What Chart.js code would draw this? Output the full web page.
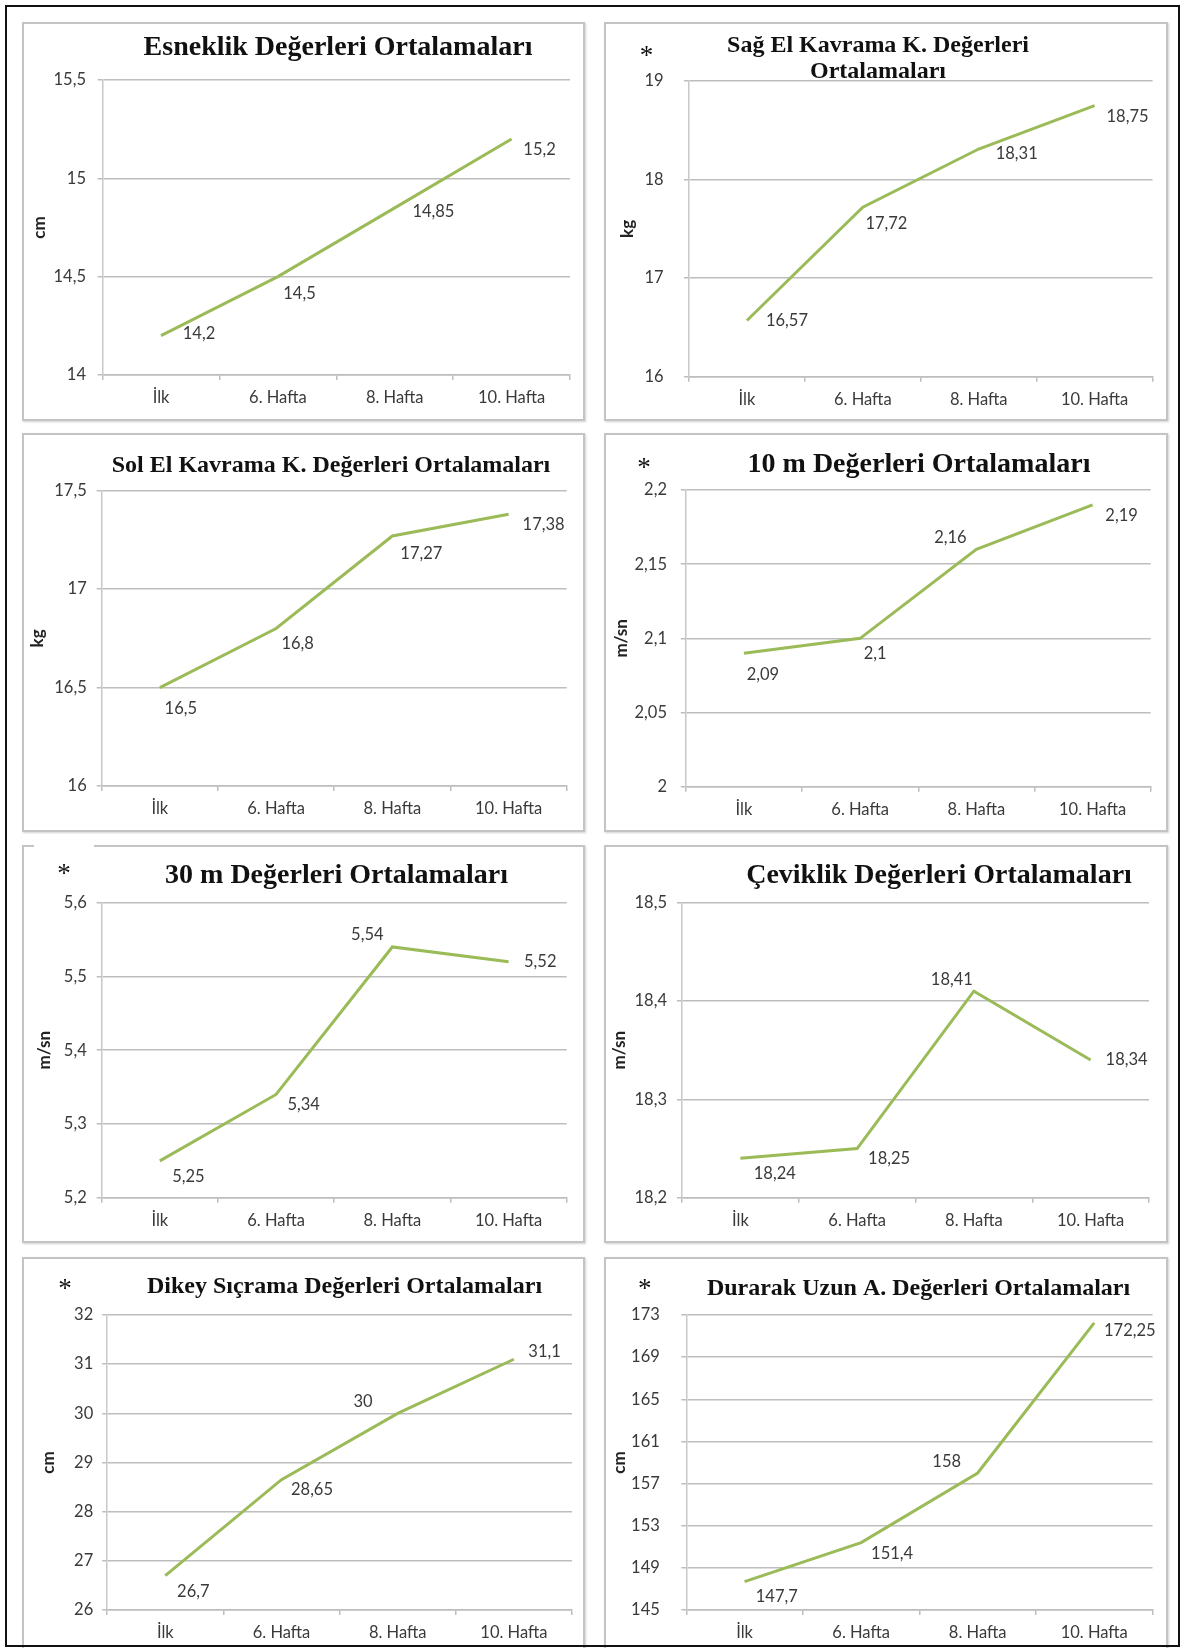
<!DOCTYPE html>
<html lang="tr">
<head>
<meta charset="utf-8">
<title>Değerleri Ortalamaları</title>
<script src="https://cdn.jsdelivr.net/npm/chart.js@4.4.1/dist/chart.umd.min.js"></script>
<style>
  html, body { margin: 0; padding: 0; background: #fff; }
  body { width: 1182px; height: 1648px; position: relative; overflow: hidden; }
  .panel { position: absolute; background: #fff; }
  .panel canvas { position: absolute; left: 0; top: 0; }
  .panel .edge {
    position: absolute; left: 0; top: 0; right: 0; bottom: 0;
    border: 2px solid #c4c4c4;
    box-shadow: 1px 1px 2px rgba(0, 0, 0, 0.18);
    pointer-events: none;
  }
  .frame {
    position: absolute; left: 5px; top: 5px; width: 1175px; height: 1642px;
    border: 2px solid #111; box-sizing: border-box; z-index: 5; pointer-events: none;
  }
  .patch { position: absolute; left: 34px; top: 841px; width: 60px; height: 14px; background: #fff; z-index: 3; }
</style>
</head>
<body>
<div class="frame"></div>
<div class="patch"></div>
<script>
// Measurement weeks shared by every chart
const weekLabels = ['İlk', '6. Hafta', '8. Hafta', '10. Hafta'];

// Mean values per test, one value per week
const esneklikValues = [14.2, 14.5, 14.85, 15.2];
const sagElValues = [16.57, 17.72, 18.31, 18.75];
const solElValues = [16.5, 16.8, 17.27, 17.38];
const onMetreValues = [2.09, 2.1, 2.16, 2.19];
const otuzMetreValues = [5.25, 5.34, 5.54, 5.52];
const ceviklikValues = [18.24, 18.25, 18.41, 18.34];
const dikeyValues = [26.7, 28.65, 30, 31.1];
const durarakValues = [147.7, 151.4, 158, 172.25];

// Value-axis tick labels per test
const esneklikTicks = [14, 14.5, 15, 15.5];
const sagElTicks = [16, 17, 18, 19];
const solElTicks = [16, 16.5, 17, 17.5];
const onMetreTicks = [2, 2.05, 2.1, 2.15, 2.2];
const otuzMetreTicks = [5.2, 5.3, 5.4, 5.5, 5.6];
const ceviklikTicks = [18.2, 18.3, 18.4, 18.5];
const dikeyTicks = [26, 27, 28, 29, 30, 31, 32];
const durarakTicks = [145, 149, 153, 157, 161, 165, 169, 173];

const LINE_COLOR = '#9bbb59';
const GRID_COLOR = '#bdbdbd';
const TEXT_COLOR = '#3a3a3a';
const LABEL_FONT = 'Lato';
const TITLE_FONT = '"Liberation Serif", "Times New Roman", serif';

// Turkish decimal comma
function fmt(v) {
  return String(Math.round(v * 1000) / 1000).replace('.', ',');
}

// Chart boxes: panel frame, plot area, heading and label placement
const panels = [
  { id: 'esneklik', left: 22, top: 22, w: 563, h: 399,
    title: ['Esneklik Değerleri Ortalamaları'], titleSize: 28, titleX: 316, titleY: [33],
    star: null, unit: 'cm', unitX: 18, plot: [80.6, 548, 58, 353], tickGap: 16.6,
    values: esneklikValues, ticks: esneklikTicks,
    labelShift: [[38, -2], [21.6, 16.6], [38.7, 3.9], [28, 11]] },
  { id: 'sagEl', left: 604, top: 22, w: 564, h: 399,
    title: ['Sağ El Kavrama K. Değerleri', 'Ortalamaları'], titleSize: 24, titleX: 274, titleY: [30.3, 56.3],
    star: [42.6, 28], unit: 'kg', unitX: 23.7, plot: [85, 548.5, 59, 354.7], tickGap: 25.4,
    values: sagElValues, ticks: sagElTicks,
    labelShift: [[40, 0], [23.6, 17], [38, 4.3], [33, 11]] },
  { id: 'solEl', left: 22, top: 433, w: 563, h: 399,
    title: ['Sol El Kavrama K. Değerleri Ortalamaları'], titleSize: 24, titleX: 309, titleY: [38.7],
    star: null, unit: 'kg', unitX: 15.7, plot: [79.7, 544.7, 57.7, 353], tickGap: 15,
    values: solElValues, ticks: solElTicks,
    labelShift: [[21, 20.7], [21.6, 15.5], [29, 18], [35, 10.7]] },
  { id: 'onMetre', left: 604, top: 433, w: 564, h: 399,
    title: ['10 m Değerleri Ortalamaları'], titleSize: 28, titleX: 315, titleY: [38.7],
    star: [40, 28.7], unit: 'm/sn', unitX: 17.7, plot: [81.8, 546.7, 57, 353.7], tickGap: 18.8,
    values: onMetreValues, ticks: onMetreTicks,
    labelShift: [[19, 21], [15, 15.6], [-26, -12], [29, 11]] },
  { id: 'otuzMetre', left: 22, top: 845, w: 563, h: 398,
    title: ['30 m Değerleri Ortalamaları'], titleSize: 28, titleX: 314.5, titleY: [38.3],
    star: [42, 23], unit: 'm/sn', unitX: 23, plot: [79.7, 544.7, 57.7, 352.7], tickGap: 15,
    values: otuzMetreValues, ticks: otuzMetreTicks,
    labelShift: [[28.6, 16], [27.6, 10.5], [-25, -12], [31.7, 0]] },
  { id: 'ceviklik', left: 604, top: 845, w: 564, h: 398,
    title: ['Çeviklik Değerleri Ortalamaları'], titleSize: 28, titleX: 335, titleY: [38],
    star: null, unit: 'm/sn', unitX: 15.4, plot: [78, 545, 57.7, 352.7], tickGap: 15,
    values: ceviklikValues, ticks: ceviklikTicks,
    labelShift: [[34.4, 15], [32, 10], [-22, -12], [36, 0]] },
  { id: 'dikey', left: 22, top: 1257, w: 563, h: 399,
    title: ['Dikey Sıçrama Değerleri Ortalamaları'], titleSize: 24, titleX: 322.5, titleY: [36.3],
    star: [43, 26], unit: 'cm', unitX: 27, plot: [85.2, 550, 58, 353], tickGap: 14,
    values: dikeyValues, ticks: dikeyTicks,
    labelShift: [[28, 16], [30.5, 9.6], [-34.7, -11.6], [30.7, -7.5]] },
  { id: 'durarak', left: 604, top: 1257, w: 564, h: 399,
    title: ['Durarak Uzun A. Değerleri Ortalamaları'], titleSize: 24, titleX: 314.5, titleY: [38],
    star: [40.7, 26], unit: 'cm', unitX: 16, plot: [82.3, 548.5, 58, 353], tickGap: 26.5,
    values: durarakValues, ticks: durarakTicks,
    labelShift: [[32.2, 15], [31, 10.7], [-31, -11.3], [35.6, 7.8]] }
];

// Heading, asterisk and point value labels
const panelDecor = {
  id: 'panelDecor',
  afterDatasetsDraw(chart, args, opts) {
    const ctx = chart.ctx;
    ctx.save();
    // value labels next to each point
    const meta = chart.getDatasetMeta(0);
    const data = chart.data.datasets[0].data;
    ctx.font = '16.5px ' + LABEL_FONT;
    ctx.fillStyle = TEXT_COLOR;
    ctx.textAlign = 'center';
    ctx.textBaseline = 'middle';
    meta.data.forEach((pt, i) => {
      const s = opts.labelShift[i];
      ctx.fillText(fmt(data[i]), pt.x + s[0], pt.y + s[1]);
    });
    // heading
    ctx.fillStyle = '#111';
    ctx.textBaseline = 'alphabetic';
    ctx.font = 'bold ' + opts.titleSize + 'px ' + TITLE_FONT;
    opts.title.forEach((line, i) => ctx.fillText(line, opts.titleX, opts.titleY[i]));
    if (opts.star) {
      ctx.font = '27px ' + TITLE_FONT;
      ctx.fillText('*', opts.star[0], opts.star[1] + 14);
    }
    ctx.restore();
  }
};

panels.forEach(p => {
  const box = document.createElement('div');
  box.className = 'panel';
  box.style.left = p.left + 'px';
  box.style.top = p.top + 'px';
  box.style.width = p.w + 'px';
  box.style.height = p.h + 'px';
  const canvas = document.createElement('canvas');
  canvas.id = p.id;
  canvas.width = p.w;
  canvas.height = p.h;
  box.appendChild(canvas);
  const edge = document.createElement('div');
  edge.className = 'edge';
  box.appendChild(edge);
  document.body.appendChild(box);

  const [pl, pr, pt, pb] = p.plot;
  const xAxisHeight = 40;
  const unitFont = 17;
  const tickVals = p.ticks;

  new Chart(canvas, {
    type: 'line',
    data: {
      labels: weekLabels,
      datasets: [{
        data: p.values,
        borderColor: LINE_COLOR,
        borderWidth: 3,
        pointRadius: 0,
        tension: 0,
        fill: false
      }]
    },
    options: {
      responsive: false,
      devicePixelRatio: 1,
      animation: false,
      layout: { padding: { left: 0, top: pt, right: p.w - pr, bottom: p.h - pb - xAxisHeight } },
      plugins: {
        legend: { display: false },
        tooltip: { enabled: false },
        panelDecor: {
          title: p.title, titleSize: p.titleSize, titleX: p.titleX, titleY: p.titleY,
          star: p.star, labelShift: p.labelShift
        }
      },
      scales: {
        x: {
          offset: true,
          afterFit: s => { s.height = xAxisHeight; },
          ticks: { padding: 8, color: TEXT_COLOR, maxRotation: 0, autoSkip: false,
                   font: { family: LABEL_FONT, size: 16.5 } },
          grid: { offset: true, drawOnChartArea: false, drawTicks: true, tickLength: 5,
                  color: GRID_COLOR, lineWidth: 1.5 },
          border: { color: GRID_COLOR, width: 1.5 }
        },
        y: {
          min: tickVals[0],
          max: tickVals[tickVals.length - 1],
          afterBuildTicks: s => { s.ticks = tickVals.map(v => ({ value: v })); },
          afterFit: s => { s.width = pl; },
          ticks: { padding: p.tickGap - 5, color: TEXT_COLOR, autoSkip: false,
                   font: { family: LABEL_FONT, size: 16.5 }, callback: v => fmt(v) },
          grid: { color: GRID_COLOR, lineWidth: 1.5, drawTicks: true, tickLength: 5 },
          border: { color: '#c8c8c8', width: 1.5 },
          title: { display: true, text: p.unit, color: '#222',
                   font: { family: LABEL_FONT, weight: 'bold', size: unitFont },
                   padding: { top: p.unitX - unitFont * 0.6, bottom: 0 } }
        }
      }
    },
    plugins: [panelDecor]
  });
});
</script>
</body>
</html>
